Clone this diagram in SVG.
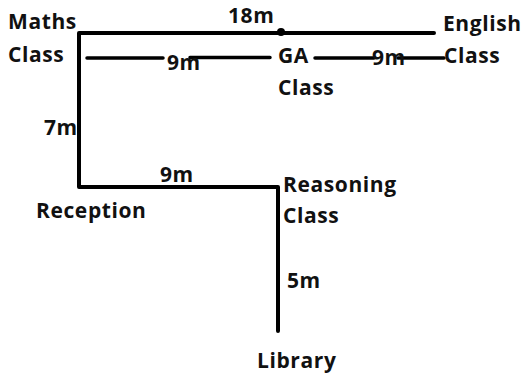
<svg xmlns="http://www.w3.org/2000/svg" width="524" height="378" viewBox="0 0 524 378">
<style>
text{font-family:"Open Sans","DejaVu Sans",sans-serif;font-weight:bold;font-size:21px;letter-spacing:0.6px;fill:#111}
.p{stroke:#000;stroke-width:4;fill:none;stroke-linecap:round;stroke-linejoin:round}
.t{stroke:#000;stroke-width:3.5;fill:none;stroke-linecap:round}
</style>
<rect width="524" height="378" fill="#fff"/>
<g id="connectors">
<path class="p" d="M434 33H79V187H278V331"/>
<circle cx="281" cy="32" r="4" fill="#000"/>
<path class="t" d="M87 58H163M190 57.5H270M315 58H374M398 58H444"/>
</g>
<g id="maths"><text x="8" y="29">Maths</text><text x="8" y="62">Class</text></g>
<g id="english"><text x="443" y="31">English</text><text x="444" y="63">Class</text></g>
<g id="ga"><text x="278" y="63">GA</text><text x="278" y="95">Class</text></g>
<g id="reception"><text x="36" y="218">Reception</text></g>
<g id="reasoning"><text x="283" y="192">Reasoning</text><text x="283" y="223">Class</text></g>
<g id="library"><text x="257" y="368">Library</text></g>
<g id="labels">
<text x="228" y="23">18m</text>
<text x="167" y="70">9m</text>
<text x="372" y="65">9m</text>
<text x="44" y="135">7m</text>
<text x="160" y="182">9m</text>
<text x="287" y="288">5m</text>
</g>
</svg>
